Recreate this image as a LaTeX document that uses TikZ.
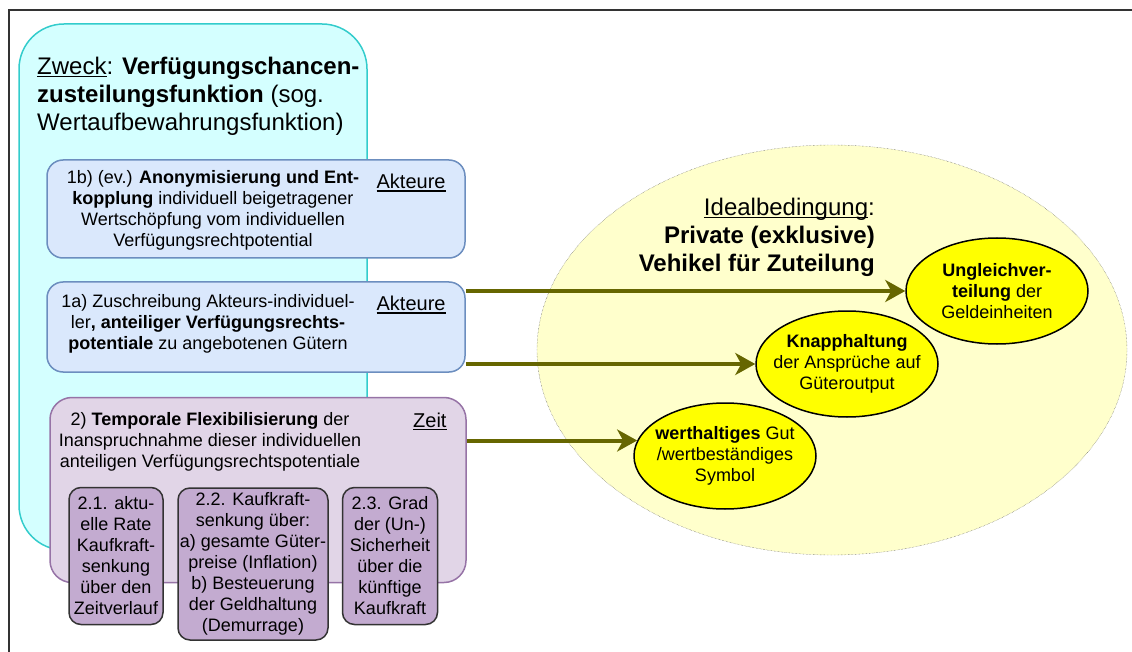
\documentclass[tikz,border=0pt]{standalone}
\usepackage{fontspec}
\setmainfont{Liberation Sans}
\usetikzlibrary{arrows.meta,positioning,shapes.geometric}
\definecolor{Frame}{HTML}{333333}
\definecolor{PurposeFill}{HTML}{D4FFFF}
\definecolor{PurposeLine}{HTML}{33CCCC}
\definecolor{BlueFill}{HTML}{DAE8FC}
\definecolor{BlueLine}{HTML}{6C8EBF}
\definecolor{LilacFill}{HTML}{E1D5E7}
\definecolor{LilacLine}{HTML}{9673A6}
\definecolor{PlumFill}{HTML}{C3ABD0}
\definecolor{PaleYellow}{HTML}{FFFFCC}
\definecolor{GoalYellow}{HTML}{FFFF00}
\definecolor{Olive}{HTML}{666600}
% underline at a fixed depth below the baseline
\newcommand\undl[1]{\leavevmode\setbox0\hbox{#1}\rlap{\raisebox{-0.13em}{\rule{\wd0}{0.06em}}}\box0}
\tikzset{
  purpose/.style={
    rounded corners=45pt, draw=PurposeLine, line width=1.5pt, fill=PurposeFill,
    minimum width=348pt, minimum height=526pt, inner sep=0pt
  },
  task/.style={
    rounded corners=16pt, draw=BlueLine, line width=1.5pt, fill=BlueFill,
    minimum width=418pt, inner sep=0pt
  },
  timebox/.style={
    rounded corners=22pt, draw=LilacLine, line width=1.5pt, fill=LilacFill,
    minimum width=416pt, minimum height=185pt, inner sep=0pt
  },
  subtask/.style={
    rounded corners=12pt, draw=Frame, line width=1.5pt, fill=PlumFill,
    inner sep=0pt, align=center, font=\fontsize{18}{21}\selectfont
  },
  body/.style={inner sep=0pt, align=center, font=\fontsize{18}{21}\selectfont},
  tag/.style={inner sep=0pt, font=\fontsize{20}{24}\selectfont},
  heading/.style={inner sep=0pt, font=\fontsize{24}{28}\selectfont},
  goal/.style={
    ellipse, draw=black, line width=1.5pt, fill=GoalYellow,
    minimum width=182pt, minimum height=106pt, inner sep=0pt
  },
  flow/.style={-{Stealth[length=20pt,width=22pt,inset=6pt]}, line width=4pt, draw=Olive}
}
\begin{document}
\begin{tikzpicture}[x=1pt,y=-1pt]
  \useasboundingbox (0,0) rectangle (1132,652);
  \draw[line width=2pt, draw=Frame] (1132,10) -- (9,10) -- (9,652);
  % left side
  \node[purpose] (purpose) at (193,287) {};
  \node[heading, align=left, anchor=west] (title) at (37,96)
    {\undl{Zweck}: \textbf{Verfügungschancen-}\\\textbf{zusteilungsfunktion} (sog.\\Wertaufbewahrungsfunktion)};
  \node[task, minimum height=98pt] (decouple) at (256,209) {};
  \node[body] (decoupletext) at (213,210)
    {1b) (ev.) \textbf{Anonymisierung und Ent-}\\\textbf{kopplung} individuell beigetragener\\Wertschöpfung vom individuellen\\Verfügungsrechtpotential};
  \node[tag, below left=15pt and 20pt of decouple.north east] (actor1) {\undl{Akteure}};
  \node[task, minimum height=90pt] (ascribe) at (256,327) {};
  \node[body] (ascribetext) at (208,324)
    {1a) Zuschreibung Akteurs-individuel-\\ler\textbf{, anteiliger Verfügungsrechts-}\\\textbf{potentiale} zu angebotenen Gütern};
  \node[tag, below left=15pt and 20pt of ascribe.north east] (actor2) {\undl{Akteure}};
  \node[timebox] (temporal) at (258,490) {};
  \node[body] (temporaltext) at (210,442)
    {2) \textbf{Temporale Flexibilisierung} der\\Inanspruchnahme dieser individuellen\\anteiligen Verfügungsrechtspotentiale};
  \node[tag, below left=16pt and 20pt of temporal.north east] (period) {\undl{Zeit}};
  \node[subtask, minimum width=94pt, minimum height=137pt] (rate) at (116,556)
    {2.1. aktu-\\elle Rate\\Kaufkraft-\\senkung\\über den\\Zeitverlauf};
  \node[subtask, minimum width=150pt, minimum height=152pt] (levy) at (253,564)
    {2.2. Kaufkraft-\\senkung über:\\a) gesamte Güter-\\preise (Inflation)\\b) Besteuerung\\der Geldhaltung\\(Demurrage)};
  \node[subtask, minimum width=95pt, minimum height=137pt] (risk) at (390,556)
    {2.3. Grad\\der (Un-)\\Sicherheit\\über die\\künftige\\Kaufkraft};
  % right side
  \node[ellipse, draw=black!70, densely dotted, fill=PaleYellow,
    minimum width=590pt, minimum height=410pt, inner sep=0pt] (ideal) at (832,350) {};
  \node[heading, align=right, anchor=east] (idealtext) at (875,237)
    {\undl{Idealbedingung}:\\\textbf{Private (exklusive)}\\\textbf{Vehikel für Zuteilung}};
  \node[goal, label={[body]center:{\textbf{Ungleichver-}\\\textbf{teilung} der\\Geldeinheiten}}] (unequal) at (997,291) {};
  \node[goal, label={[body]center:{\textbf{Knapphaltung}\\der Ansprüche auf\\Güteroutput}}] (scarce) at (847,364) {};
  \node[goal, label={[body]center:{\textbf{werthaltiges} Gut\\/wertbeständiges\\Symbol}}] (valuable) at (725,456) {};
  \draw[flow] (ascribe.east |- unequal.west) -- (unequal.west);
  \draw[flow] (ascribe.east |- scarce.west) -- (scarce.west);
  \draw[flow] (temporal.east |- valuable.170) -- (valuable.170);
\end{tikzpicture}
\end{document}
